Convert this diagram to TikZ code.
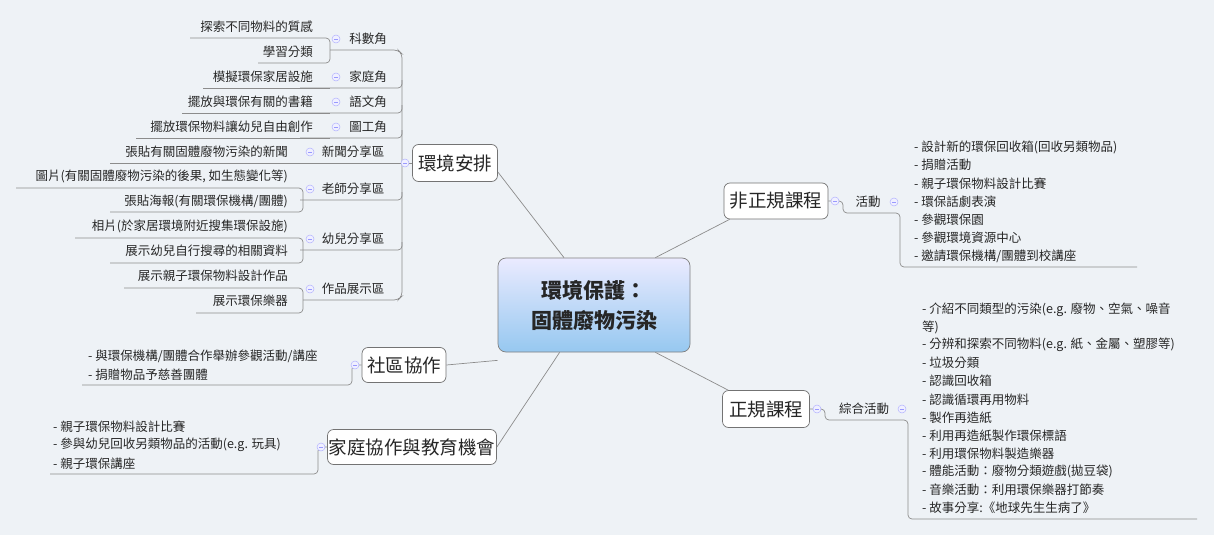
\documentclass[tikz,border=0pt]{standalone}
\usepackage{fontspec}
\setmainfont{Noto Sans CJK TC}
\begin{document}
\begin{tikzpicture}[x=1pt,y=-1pt,
  ln/.style={draw=black!45,line width=0.7pt,rounded corners=4pt},
  leaf/.style={inner sep=0pt,font=\fontsize{12.5}{14}\selectfont,text=black!85},
  cat/.style={inner sep=0pt,font=\fontsize{12.5}{14}\selectfont,text=black!85},
  topic/.style={draw=black!55,rounded corners=6pt,fill=white,font=\fontsize{18.5}{20}\selectfont,text=black!85,inner sep=0pt,line width=0.7pt},
  tog/.style={circle,draw=blue!30,fill=blue!6,minimum size=8pt,inner sep=0pt,line width=0.5pt,
     path picture={\draw[blue!40,line width=0.6pt] ([xshift=-2pt]path picture bounding box.center)--([xshift=2pt]path picture bounding box.center);}}]
\path[fill={rgb,255:red,238;green,242;blue,246}] (0,0) rectangle (1214,535);
\useasboundingbox (0,0) rectangle (1214,535);
% center
\node[draw=black!50,rounded corners=8pt,line width=0.7pt,top color=blue!8,bottom color={rgb,255:red,150;green,200;blue,240},
  minimum width=192pt,minimum height=94pt,align=center,font=\fontsize{21}{30}\selectfont\bfseries,text=black!85] (c) at (594,305) {環境保護：\\固體廢物污染};
% main topics
\node[topic,minimum width=85pt,minimum height=37pt] (env) at (455,163) {環境安排};
\node[topic,minimum width=84pt,minimum height=35pt] (com) at (404,365) {社區協作};
\node[topic,minimum width=169pt,minimum height=35pt] (fam) at (412,447) {家庭協作與教育機會};
\node[topic,minimum width=104pt,minimum height=36pt] (inf) at (776,201) {非正規課程};
\node[topic,minimum width=87pt,minimum height=37pt] (for) at (766,409) {正規課程};
\draw[ln] ([yshift=-9pt]env.east) -- ([xshift=-30pt]c.north);
\draw[ln] (com.east) -- ([yshift=-8pt]c.south west);
\draw[ln] (fam.east) -- ([xshift=62pt]c.south west);
\draw[ln] ([xshift=6pt]inf.south west) -- ([xshift=-35pt]c.north east);
\draw[ln] ([xshift=6pt]for.north west) -- ([xshift=-35pt]c.south east);
% ===== left: 環境安排 subtree
\coordinate (v) at (402,163);
\draw[ln] (env.west) -- (v);
\draw[ln] (330,50) -- (398,50) -- (402,54) -- (402,296) -- (398,300) -- (303,300);
\foreach \y in {88,113,138,200,250}{\draw[ln] (402,\y-8) -- (402,\y) -- (300,\y);}
\draw[ln] (402,163) -- (110,163);
% categories
\foreach \t/\x/\y in {科數角/368/39,家庭角/368/77,語文角/368/102,圖工角/368/127,新聞分享區/353/152,老師分享區/353/189,幼兒分享區/353/239,作品展示區/353/289}
  {\node[cat] at (\x,\y) {\t};}
\foreach \x/\y in {336/39,336/77,336/102,336/127,310/152,310/189,310/239,310/289,405/163}{\node[tog] at (\x,\y) {};}
% items
\draw[ln] (190,38) -- (330,38) -- (330,63) -- (258,63);
\node[leaf,anchor=east] at (313,27) {探索不同物料的質感};
\node[leaf,anchor=east] at (313,52) {學習分類};
\draw[ln] (203,88) -- (330,88);
\node[leaf,anchor=east] at (313,77) {模擬環保家居設施};
\draw[ln] (182,113) -- (330,113);
\node[leaf,anchor=east] at (313,102) {擺放與環保有關的書籍};
\draw[ln] (136,138) -- (330,138);
\node[leaf,anchor=east] at (313,127) {擺放環保物料讓幼兒自由創作};
\node[leaf,anchor=east] at (288,152) {張貼有關固體廢物污染的新聞};
\draw[ln] (16,188) -- (303,188) -- (303,212) -- (110,212);
\node[leaf,anchor=east] at (288,176) {圖片(有關固體廢物污染的後果, 如生態變化等)};
\node[leaf,anchor=east] at (288,201) {張貼海報(有關環保機構/團體)};
\draw[ln] (75,238) -- (303,238) -- (303,263) -- (110,263);
\node[leaf,anchor=east] at (288,226) {相片(於家居環境附近搜集環保設施)};
\node[leaf,anchor=east] at (288,251) {展示幼兒自行搜尋的相關資料};
\draw[ln] (124,288) -- (303,288) -- (303,313) -- (196,313);
\node[leaf,anchor=east] at (288,276) {展示親子環保物料設計作品};
\node[leaf,anchor=east] at (288,301) {展示環保樂器};
% ===== 社區協作
\draw[ln] (com.west) -- (352,365) -- (352,385) -- (82,385);
\node[tog] at (355,365) {};
\node[leaf,anchor=west] at (88,356) {- 與環保機構/團體合作舉辦參觀活動/講座};
\node[leaf,anchor=west] at (88,375) {- 捐贈物品予慈善團體};
% ===== 家庭協作
\draw[ln] (fam.west) -- (318,447) -- (318,474) -- (50,474);
\node[tog] at (321,447) {};
\node[leaf,anchor=west] at (53,427) {- 親子環保物料設計比賽};
\node[leaf,anchor=west] at (53,445) {- 參與幼兒回收另類物品的活動(e.g. 玩具)};
\node[leaf,anchor=west] at (53,464) {- 親子環保講座};
% ===== 非正規課程
\draw[ln] (inf.east) -- (843,201) -- (843,213) -- (900,213) -- (900,267) -- (1137,267);
\node[tog] at (835,201) {};
\node[cat] at (868,202) {活動};
\node[tog] at (894,202) {};
\foreach \t [count=\i from 0] in {- 設計新的環保回收箱(回收另類物品),- 捐贈活動,- 親子環保物料設計比賽,- 環保話劇表演,- 參觀環保園,- 參觀環境資源中心,- 邀請環保機構/團體到校講座}
  {\node[leaf,anchor=west] at (914,147+18.2*\i) {\t};}
% ===== 正規課程
\draw[ln] (for.east) -- (825,409) -- (825,420) -- (908,420) -- (908,519) -- (1197,519);
\node[tog] at (817,409) {};
\node[cat] at (864,409) {綜合活動};
\node[tog] at (902,409) {};
\node[leaf,anchor=west] at (922,310) {- 介紹不同類型的污染(e.g. 廢物、空氣、噪音};
\node[leaf,anchor=west] at (922,327) {等)};
\foreach \t [count=\i from 0] in {- 分辨和探索不同物料(e.g. 紙、金屬、塑膠等),- 垃圾分類,- 認識回收箱,- 認識循環再用物料,- 製作再造紙,- 利用再造紙製作環保標語,- 利用環保物料製造樂器,- 體能活動：廢物分類遊戲(拋豆袋),- 音樂活動：利用環保樂器打節奏,- 故事分享:《地球先生生病了》}
  {\node[leaf,anchor=west] at (922,345+18.1*\i) {\t};}
\end{tikzpicture}
\end{document}
